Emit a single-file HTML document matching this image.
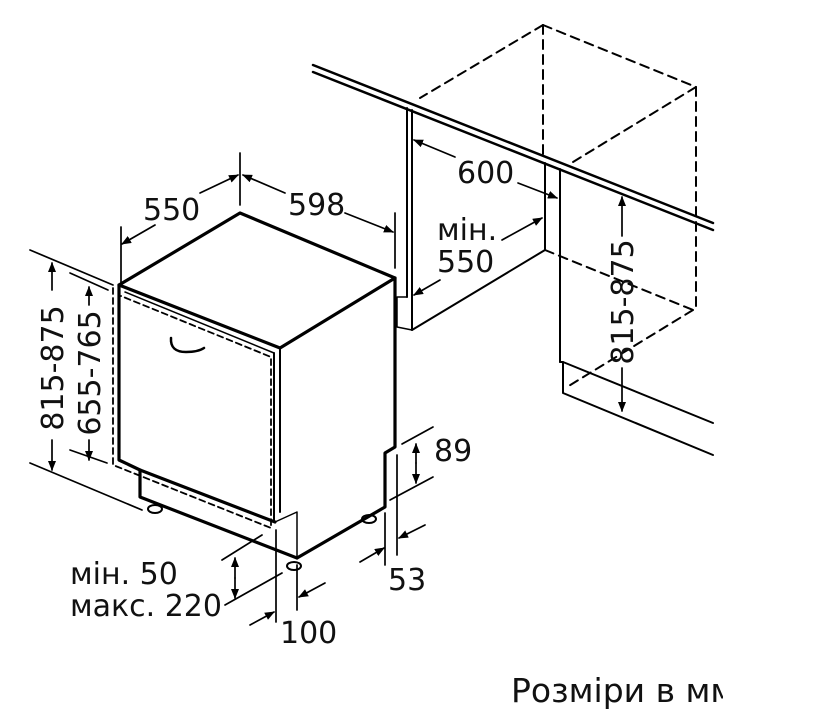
<!DOCTYPE html>
<html><head><meta charset="utf-8"><style>
html,body{margin:0;padding:0;background:#fff;}
svg{display:block;}
text{font-family:"DejaVu Sans","Liberation Sans",sans-serif;fill:#111;}
</style></head><body>
<svg width="821" height="716" viewBox="0 0 821 716" xmlns="http://www.w3.org/2000/svg">
<defs>
<marker id="a" markerWidth="10" markerHeight="8" refX="9" refY="4" orient="auto" markerUnits="userSpaceOnUse"><path d="M0,0 L10,4 L0,8 z" fill="#000"/></marker>
</defs>
<g fill="none" stroke="#000" stroke-linecap="round" stroke-linejoin="round">
<line x1="313" y1="65" x2="713" y2="223" stroke-width="2.5"/>
<line x1="313" y1="72" x2="713" y2="230" stroke-width="2.5"/>
<line x1="407" y1="108" x2="407" y2="297" stroke-width="2"/>
<line x1="412" y1="110" x2="412" y2="330" stroke-width="2"/>
<polyline points="407,297 397,297 397,327 412,330" stroke-width="1.5"/>
<line x1="412" y1="330" x2="545" y2="250" stroke-width="2"/>
<line x1="545" y1="163" x2="545" y2="250" stroke-width="2"/>
<line x1="560" y1="169" x2="560" y2="362" stroke-width="2"/>
<polyline points="560,362 563,362 713,423" stroke-width="2"/>
<polyline points="563,362 563,393 713,455" stroke-width="2"/>
<g stroke-dasharray="9,6" stroke-width="2">
<line x1="543" y1="25" x2="420" y2="98"/>
<line x1="543" y1="25" x2="696" y2="87"/>
<line x1="543" y1="25" x2="543" y2="160"/>
<line x1="696" y1="87" x2="573" y2="162"/>
<line x1="696" y1="87" x2="696" y2="310"/>
<line x1="545" y1="250" x2="693" y2="310"/>
<line x1="693" y1="310" x2="567" y2="387"/>
</g>
<polygon points="240,213 395,278 280,348 119,285" stroke-width="3.2"/>
<polyline points="395,278 395,447 385,453 385,507 297,558" stroke-width="3.2"/>
<line x1="280" y1="348" x2="280" y2="512" stroke-width="2"/>
<polyline points="119,285 119,460 140,470 275,522" stroke-width="3.2"/>
<line x1="125" y1="292" x2="274" y2="353" stroke-width="1.5"/>
<line x1="274" y1="353" x2="274" y2="522" stroke-width="2"/>
<polyline points="275,522 297,512 297,558" stroke-width="1.5"/>
<polyline points="140,470 140,497 297,558" stroke-width="3.2"/>
<polyline points="113,288 113,465 271,528 271,357 121,296" stroke-dasharray="6,4" stroke-width="1.8"/>
<path d="M171,338 Q170,352 186,352 Q198,352 204,348" stroke-width="2.5"/>
<ellipse cx="155" cy="509" rx="7" ry="4" stroke-width="2"/>
<ellipse cx="294" cy="566" rx="7" ry="4" stroke-width="2"/>
<ellipse cx="369" cy="519" rx="7" ry="4" stroke-width="2"/>

<g stroke-width="1.7">
<line x1="240" y1="153" x2="240" y2="205"/>
<line x1="121" y1="227" x2="121" y2="283"/>
<line x1="395" y1="213" x2="395" y2="268"/>
<line x1="155" y1="225" x2="122" y2="244" marker-end="url(#a)"/>
<line x1="200" y1="193" x2="238" y2="175" marker-end="url(#a)"/>
<line x1="285" y1="193" x2="243" y2="175" marker-end="url(#a)"/>
<line x1="345" y1="213" x2="393" y2="232" marker-end="url(#a)"/>
<line x1="455" y1="157" x2="414" y2="140" marker-end="url(#a)"/>
<line x1="518" y1="183" x2="557" y2="198" marker-end="url(#a)"/>
<line x1="502" y1="240" x2="542" y2="218" marker-end="url(#a)"/>
<line x1="440" y1="280" x2="414" y2="295" marker-end="url(#a)"/>
<line x1="622" y1="236" x2="622" y2="197" marker-end="url(#a)"/>
<line x1="622" y1="368" x2="622" y2="411" marker-end="url(#a)"/>
<line x1="30" y1="250" x2="113" y2="285"/>
<line x1="30" y1="463" x2="142" y2="510"/>
<line x1="52" y1="290" x2="52" y2="263" marker-end="url(#a)"/>
<line x1="52" y1="440" x2="52" y2="470" marker-end="url(#a)"/>
<line x1="70" y1="273" x2="108" y2="290"/>
<line x1="70" y1="450" x2="107" y2="463"/>
<line x1="89" y1="305" x2="89" y2="287" marker-end="url(#a)"/>
<line x1="89" y1="440" x2="89" y2="460" marker-end="url(#a)"/>
<line x1="402" y1="444" x2="433" y2="427"/>
<line x1="390" y1="500" x2="433" y2="477"/>
<line x1="416" y1="463" x2="416" y2="444" marker-end="url(#a)"/>
<line x1="416" y1="463" x2="416" y2="483" marker-end="url(#a)"/>
<line x1="397" y1="455" x2="397" y2="555"/>
<line x1="385" y1="513" x2="385" y2="565"/>
<line x1="360" y1="562" x2="384" y2="548" marker-end="url(#a)"/>
<line x1="425" y1="525" x2="399" y2="538" marker-end="url(#a)"/>
<line x1="222" y1="560" x2="262" y2="535"/>
<line x1="225" y1="605" x2="282" y2="573"/>
<line x1="235" y1="578" x2="235" y2="558" marker-end="url(#a)"/>
<line x1="235" y1="578" x2="235" y2="598" marker-end="url(#a)"/>
<line x1="276" y1="530" x2="276" y2="622"/>
<line x1="297" y1="565" x2="297" y2="610"/>
<line x1="250" y1="625" x2="274" y2="612" marker-end="url(#a)"/>
<line x1="325" y1="583" x2="299" y2="597" marker-end="url(#a)"/>
</g>
</g>
<g font-size="30">
<text x="143" y="220">550</text>
<text x="288" y="215">598</text>
<text x="457" y="183">600</text>
<text x="437" y="240">мін.</text>
<text x="437" y="272">550</text>
<text transform="translate(633,302) rotate(-90)" text-anchor="middle">815-875</text>
<text transform="translate(63,368) rotate(-90)" text-anchor="middle">815-875</text>
<text transform="translate(100,373) rotate(-90)" text-anchor="middle">655-765</text>
<text x="434" y="461">89</text>
<text x="388" y="590">53</text>
<text x="70" y="584">мін. 50</text>
<text x="70" y="616">макс. 220</text>
<text x="280" y="643">100</text>
</g>
<svg x="0" y="0" width="723" height="716" overflow="hidden">
<text x="511" y="702" font-size="33">Розміри в мм</text>
</svg>
</svg>
</body></html>
